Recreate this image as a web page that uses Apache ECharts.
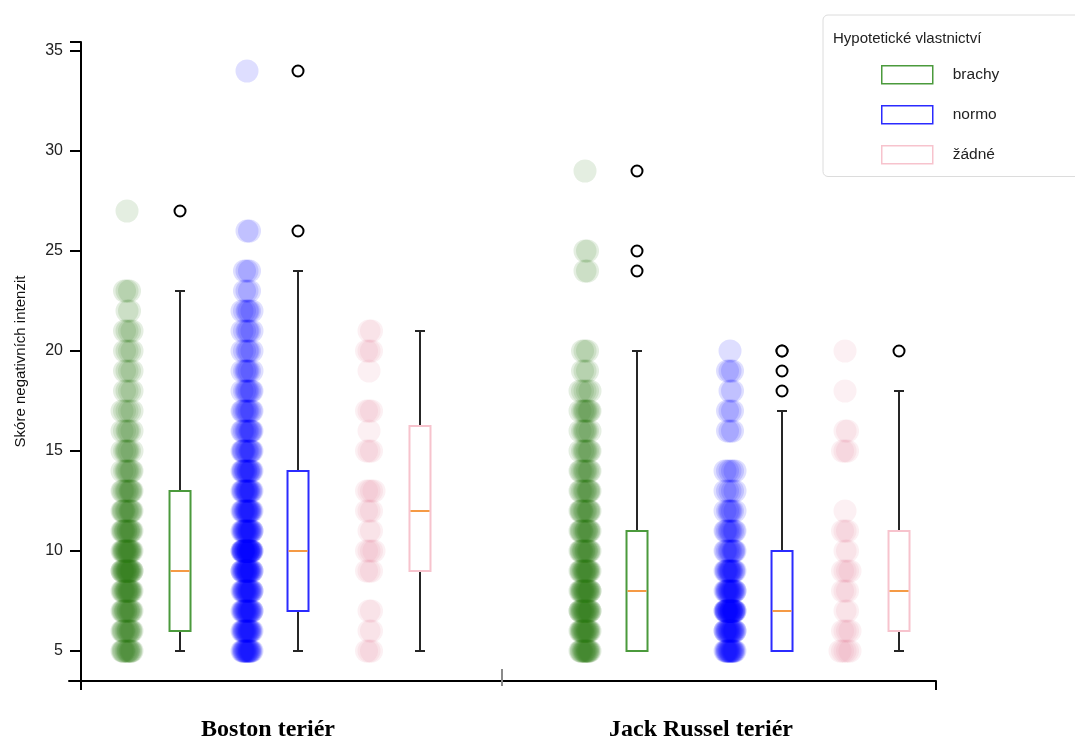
<!DOCTYPE html>
<html>
<head>
<meta charset="utf-8">
<script src="https://cdn.jsdelivr.net/npm/echarts@6/dist/echarts.min.js"></script>
<style>
html,body{margin:0;padding:0;background:#fff;}
#chart{width:1075px;height:743px;}
</style>
</head>
<body>
<div id="chart"></div>
<script>
// ---------- DATA ----------
const categories = ['Boston teriér', 'Jack Russel teriér'];
const groups = ['brachy', 'normo', 'žádné'];
const yTickValues = [5, 10, 15, 20, 25, 30, 35];

// individual scores as [score, number of respondents]
const bostonBrachy = [[5,12],[6,12],[7,13],[8,15],[9,19],[10,16],[11,13],[12,11],[13,10],[14,8],[15,7],[16,6],[17,5],[18,4],[19,4],[20,4],[21,4],[22,2],[23,3],[27,1]];
const bostonNormo  = [[5,16],[6,16],[7,17],[8,17],[9,20],[10,25],[11,17],[12,15],[13,14],[14,13],[15,11],[16,10],[17,9],[18,8],[19,7],[20,6],[21,6],[22,6],[23,3],[24,3],[26,2],[34,1]];
const bostonZadne  = [[5,3],[6,2],[7,2],[9,3],[10,4],[11,2],[12,3],[13,4],[15,3],[16,1],[17,3],[19,1],[20,3],[21,2]];
const jackBrachy   = [[5,15],[6,16],[7,18],[8,17],[9,15],[10,13],[11,12],[12,11],[13,10],[14,9],[15,8],[16,7],[17,8],[18,5],[19,3],[20,3],[24,2],[25,2],[29,1]];
const jackNormo    = [[5,16],[6,18],[7,25],[8,17],[9,14],[10,10],[11,9],[12,7],[13,5],[14,5],[16,3],[17,3],[18,2],[19,3],[20,1]];
const jackZadne    = [[5,5],[6,4],[7,2],[8,3],[9,4],[10,2],[11,3],[12,1],[15,3],[16,2],[18,1],[20,1]];

// box statistics [min, Q1, median, Q3, max]
const boxBostonBrachy = [5, 6, 9, 13, 23];
const boxBostonNormo  = [5, 7, 10, 14, 24];
const boxBostonZadne  = [5, 9, 12, 16.25, 21];
const boxJackBrachy   = [5, 5, 8, 11, 20];
const boxJackNormo    = [5, 5, 7, 10, 17];
const boxJackZadne    = [5, 6, 8, 11, 18];

// outliers
const outBostonBrachy = [27];
const outBostonNormo  = [26, 34];
const outBostonZadne  = [];
const outJackBrachy   = [24, 25, 29];
const outJackNormo    = [18, 19, 20, 20];
const outJackZadne    = [20];

// ---------- LAYOUT / STYLE ----------
const X_MIN = -0.4596, X_MAX = 1.5427;          // category 0 and 1 centres on the x scale
const STRIP_OFFSET = [[-0.3256, -0.0485, 0.2333], [-0.2679, 0.0670, 0.3326]];
const BOX_OFFSET   = [[-0.2032, 0.0693, 0.3510], [-0.1478, 0.1871, 0.4573]];
const X_END_TICKS = [-0.4319, X_MAX];
const X_MID_TICK = [0.5404];
const JITTER_PX = [0, 2.5, -2.5, 5, -5, 1, -1, 4, -4, 3.5, -3.5, 1.5, -1.5];
const DOT_R = 11.5, DOT_ALPHA = 0.13;
const DOT_RGB = ['45,122,25', '0,0,255', '235,140,162'];
const BOX_COLOR = ['#4b9a3c', '#2b2bff', '#f7c3cd'];
const MEDIAN_COLOR = '#f59a45';
const SANS = '"Liberation Sans", Arial, Helvetica, sans-serif';

const stripData = [[bostonBrachy, bostonNormo, bostonZadne], [jackBrachy, jackNormo, jackZadne]];
const boxData = [[boxBostonBrachy, boxBostonNormo, boxBostonZadne], [boxJackBrachy, boxJackNormo, boxJackZadne]];
const outData = [[outBostonBrachy, outBostonNormo, outBostonZadne], [outJackBrachy, outJackNormo, outJackZadne]];

const series = [];

// strip (points) series
groups.forEach((g, gi) => {
  const pts = [];
  categories.forEach((c, ci) => {
    const x = ci + STRIP_OFFSET[ci][gi];
    stripData[ci][gi].forEach(([v, n]) => {
      for (let k = 0; k < n; k++) pts.push([x, v, k]);
    });
  });
  series.push({
    name: g + ' body',
    type: 'custom',
    z: 1,
    silent: true,
    encode: {x: 0, y: 1},
    data: pts,
    renderItem: function (params, api) {
      const p = api.coord([api.value(0), api.value(1)]);
      const k = api.value(2);
      return {
        type: 'circle',
        shape: {cx: p[0] + JITTER_PX[k % JITTER_PX.length], cy: p[1], r: DOT_R},
        style: {fill: 'rgba(' + DOT_RGB[gi] + ',' + DOT_ALPHA + ')', stroke: null}
      };
    }
  });
});

// box series
groups.forEach((g, gi) => {
  const items = categories.map((c, ci) => [ci + BOX_OFFSET[ci][gi]].concat(boxData[ci][gi]));
  series.push({
    name: g,
    type: 'custom',
    z: 3,
    itemStyle: {color: BOX_COLOR[gi]},
    encode: {x: 0, y: [1, 2, 3, 4, 5]},
    data: items,
    renderItem: function (params, api) {
      const x = api.value(0);
      const lo = api.coord([x, api.value(1)]);
      const q1 = api.coord([x, api.value(2)]);
      const md = api.coord([x, api.value(3)]);
      const q3 = api.coord([x, api.value(4)]);
      const hi = api.coord([x, api.value(5)]);
      const bw = 21, cw = 10;
      const wStyle = {stroke: '#262626', lineWidth: 2, fill: null};
      return {
        type: 'group',
        children: [
          {type: 'line', shape: {x1: lo[0], y1: lo[1], x2: q1[0], y2: q1[1]}, style: wStyle},
          {type: 'line', shape: {x1: q3[0], y1: q3[1], x2: hi[0], y2: hi[1]}, style: wStyle},
          {type: 'line', shape: {x1: lo[0] - cw / 2, y1: lo[1], x2: lo[0] + cw / 2, y2: lo[1]}, style: wStyle},
          {type: 'line', shape: {x1: hi[0] - cw / 2, y1: hi[1], x2: hi[0] + cw / 2, y2: hi[1]}, style: wStyle},
          {type: 'rect', shape: {x: q3[0] - bw / 2, y: q3[1], width: bw, height: q1[1] - q3[1]},
           style: {fill: '#fff', stroke: BOX_COLOR[gi], lineWidth: 2}},
          {type: 'line', shape: {x1: md[0] - bw / 2 + 1, y1: md[1], x2: md[0] + bw / 2 - 1, y2: md[1]},
           style: {stroke: MEDIAN_COLOR, lineWidth: 2, fill: null}}
        ]
      };
    }
  });
});

// outliers
const outPts = [];
groups.forEach((g, gi) => {
  categories.forEach((c, ci) => {
    outData[ci][gi].forEach(v => outPts.push([ci + BOX_OFFSET[ci][gi], v]));
  });
});
series.push({
  name: 'outliers',
  type: 'scatter',
  z: 4,
  symbol: 'circle',
  symbolSize: 11,
  itemStyle: {color: '#fff', borderColor: '#000', borderWidth: 2, opacity: 1},
  data: outPts
});

const chart = echarts.init(document.getElementById('chart'), null, {renderer: 'canvas'});
chart.setOption({
  backgroundColor: '#fff',
  animation: false,
  title: {
    text: 'Hypotetické vlastnictví',
    left: 833, top: 31, padding: 0,
    textStyle: {fontSize: 15, fontWeight: 'normal', color: '#222', fontFamily: SANS}
  },
  legend: {
    orient: 'vertical',
    left: 823, top: 15,
    padding: [50, 116, 12, 58],
    itemWidth: 51, itemHeight: 18, itemGap: 20.5,
    backgroundColor: '#fff',
    borderColor: '#dcdcdc', borderWidth: 1, borderRadius: 5,
    selectedMode: false,
    textStyle: {fontSize: 15.5, color: '#222', fontFamily: SANS, padding: [0, 0, 0, 15]},
    data: groups.map((g, gi) => ({
      name: g, icon: 'rect',
      itemStyle: {color: '#fff', borderColor: BOX_COLOR[gi], borderWidth: 1.5}
    }))
  },
  grid: {left: 69, right: 139, top: 42, bottom: 62, containLabel: false},
  xAxis: [
    {
      type: 'value', min: X_MIN, max: X_MAX, position: 'bottom',
      axisLine: {show: true, onZero: false, lineStyle: {color: '#000', width: 2}},
      axisTick: {show: true, customValues: X_END_TICKS, length: 9, lineStyle: {color: '#000', width: 2}},
      axisLabel: {
        show: true, customValues: [0, 1], margin: 37,
        formatter: v => categories[Math.round(v)],
        fontFamily: '"Liberation Serif", "Times New Roman", serif',
        fontWeight: 'bold', fontSize: 24, color: '#000'
      },
      splitLine: {show: false}
    },
    {
      type: 'value', min: X_MIN, max: X_MAX, position: 'bottom',
      axisLine: {show: false, onZero: false},
      axisTick: {show: true, inside: true, customValues: X_MID_TICK, length: 12, lineStyle: {color: '#8a8a8a', width: 2}},
      axisLabel: {show: false}, splitLine: {show: false}
    },
    {
      type: 'value', min: X_MIN, max: X_MAX, position: 'bottom',
      axisLine: {show: false, onZero: false},
      axisTick: {show: true, customValues: X_MID_TICK, length: 5, lineStyle: {color: '#8a8a8a', width: 2}},
      axisLabel: {show: false}, splitLine: {show: false}
    }
  ],
  yAxis: {
    type: 'value', min: 3.5, max: 35.45, offset: -12, position: 'left',
    name: 'Skóre negativních intenzit',
    nameLocation: 'middle', nameGap: 53,
    nameTextStyle: {fontSize: 15, color: '#111', fontFamily: SANS},
    axisLine: {show: true, onZero: false, lineStyle: {color: '#000', width: 2}},
    axisTick: {show: true, customValues: yTickValues.concat([35.45]), length: 11, lineStyle: {color: '#000', width: 2}},
    axisLabel: {show: true, customValues: yTickValues, margin: 18, fontSize: 16, color: '#222', fontFamily: SANS},
    splitLine: {show: false}
  },
  series: series
});
</script>
</body>
</html>
